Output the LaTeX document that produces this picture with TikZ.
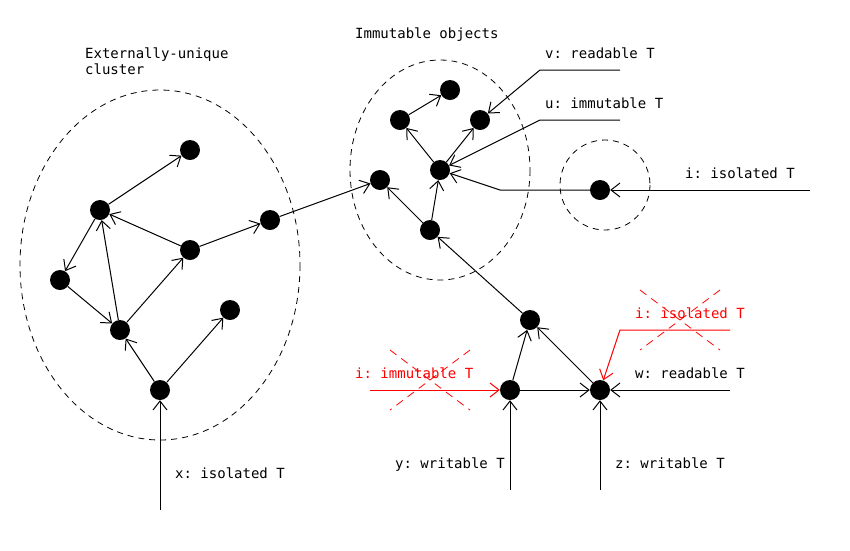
\documentclass[tikz,border=0pt]{standalone}
\usepackage{fontspec}
\newfontfamily\monofam{DejaVu Sans Mono}
\usetikzlibrary{arrows.meta}
\begin{document}
\frenchspacing
\begin{tikzpicture}[x=1pt,y=-1pt,
  obj/.style={circle,fill=black,inner sep=0pt,minimum size=20pt},
  ref/.style={-{Straight Barb[length=9pt,width=14pt]},line width=1pt},
  cluster/.style={dashed,dash pattern=on 6pt off 5pt,line width=0.8pt},
  lbl/.style={anchor=base west,inner sep=0pt,font=\monofam\fontsize{14}{17}\selectfont},
  cross/.style={red,dashed,dash pattern=on 8pt off 6pt,line width=0.8pt}]
\useasboundingbox (0,0) rectangle (850,550);
% clusters
\draw[cluster] (160,265) ellipse [x radius=140,y radius=175];
\draw[cluster] (440,170) ellipse [x radius=90,y radius=110];
\draw[cluster] (605,185) circle [radius=45];
% left nodes
\node[obj] (a1) at (190,150) {};
\node[obj] (a2) at (100,210) {};
\node[obj] (a3) at (270,220) {};
\node[obj] (a4) at (190,250) {};
\node[obj] (a5) at (60,280) {};
\node[obj] (a6) at (230,310) {};
\node[obj] (a7) at (120,330) {};
\node[obj] (a8) at (160,390) {};
% right nodes
\node[obj] (b1) at (380,180) {};
\node[obj] (b2) at (450,90) {};
\node[obj] (b3) at (400,120) {};
\node[obj] (b4) at (480,120) {};
\node[obj] (b5) at (440,170) {};
\node[obj] (b6) at (430,230) {};
\node[obj] (c) at (600,190) {};
% bottom nodes
\node[obj] (c1) at (530,320) {};
\node[obj] (y) at (510,390) {};
\node[obj] (z) at (600,390) {};
% free ends
\coordinate (xs) at (160,510);
\coordinate (ys) at (510,490);
\coordinate (zs) at (600,490);
\coordinate (ws) at (730,390);
\coordinate (is) at (810,190);
\coordinate (cb) at (500,190);
\coordinate (vs) at (620,70);
\coordinate (vb) at (540,70);
\coordinate (us) at (620,120);
\coordinate (ub) at (540,120);
\coordinate (ris) at (370,390);
\coordinate (ri2s) at (730,330);
\coordinate (ri2b) at (620,330);
% left edges
\draw[ref] (a2) -- (a1);
\draw[ref] (a4) -- (a2);
\draw[ref] (a4) -- (a3);
\draw[ref] (a2) -- (a5);
\draw[ref] (a5) -- (a7);
\draw[ref] (a7) -- (a2);
\draw[ref] (a7) -- (a4);
\draw[ref] (a8) -- (a7);
\draw[ref] (a8) -- (a6);
\draw[ref] (xs) -- (a8);
\draw[ref] (a3) -- (b1);
% right edges
\draw[ref] (b3) -- (b2);
\draw[ref] (b5) -- (b3);
\draw[ref] (b5) -- (b4);
\draw[ref] (b6) -- (b5);
\draw[ref] (b6) -- (b1);
\draw[ref] (c1) -- (b6);
\draw[ref] (vs) -- (vb) -- (b4);
\draw[ref] (us) -- (ub) -- (b5);
\draw[ref] (c) -- (cb) -- (b5);
\draw[ref] (is) -- (c);
% bottom edges
\draw[ref] (y) -- (c1);
\draw[ref] (z) -- (c1);
\draw[ref] (y) -- (z);
\draw[ref] (ws) -- (z);
\draw[ref] (ys) -- (y);
\draw[ref] (zs) -- (z);
\draw[ref,red] (ris) -- (y);
\draw[ref,red] (ri2s) -- (ri2b) -- (z);
% crosses
\draw[cross] (390,350) -- (470,410);
\draw[cross] (470,350) -- (390,410);
\draw[cross] (640,290) -- (720,350);
\draw[cross] (720,290) -- (640,350);
% labels
\node[lbl] (tImm) at (355,38) {Immutable objects};
\node[lbl] (tExt1) at (85,58) {Externally-unique};
\node[lbl] (tExt2) at (85,74) {cluster};
\node[lbl] (tv) at (545,58) {v: readable T};
\node[lbl] (tu) at (545,108) {u: immutable T};
\node[lbl] (ti) at (685,178) {i: isolated T};
\node[lbl] (tx) at (175,478) {x: isolated T};
\node[lbl] (ty) at (395,468) {y: writable T};
\node[lbl] (tz) at (615,468) {z: writable T};
\node[lbl] (tw) at (635,378) {w: readable T};
\node[lbl,red] (tri1) at (355,378) {i: immutable T};
\node[lbl,red] (tri2) at (635,318) {i: isolated T};
\end{tikzpicture}
\end{document}
